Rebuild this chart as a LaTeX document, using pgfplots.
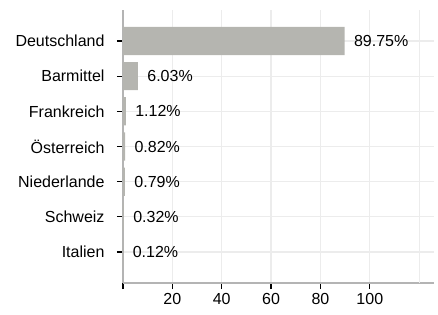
\documentclass[border=0pt]{standalone}
\usepackage{fontspec}
\setmainfont{Liberation Sans}
\usepackage{pgfplots}
\pgfplotsset{compat=1.18}
\definecolor{barcolor}{RGB}{181,181,176}
\definecolor{gridgray}{RGB}{236,236,236}
\definecolor{axisgray}{RGB}{180,180,180}
\begin{document}
\begin{tikzpicture}[font=\fontsize{16bp}{19bp}\selectfont]
\begin{axis}[
  scale only axis, width=311bp, height=273bp,
  xbar, bar width=0.8,
  xmin=0, xmax=126, ymin=-0.88, ymax=6.88,
  ytick={0,...,6},
  yticklabels={Italien,Schweiz,Niederlande,Österreich,Frankreich,Barmittel,Deutschland},
  xtick={0,20,...,100},
  xticklabels={,20,40,60,80,100},
  extra x ticks={120}, extra x tick labels={},
  extra x tick style={major tick length=0pt, grid=major},
  grid=major,
  grid style={color=gridgray, line width=1.2pt},
  axis x line*=bottom, axis y line*=left,
  axis line style={-, color=axisgray, line width=1.3pt},
  tick style={black, line width=1.2pt},
  major tick length=6bp, tick align=outside,
  /pgf/number format/assume math mode=true,
  point meta=explicit symbolic,
  nodes near coords,
  every node near coord/.append style={anchor=west, xshift=6bp, black},
  yticklabel style={xshift=-9bp},
  xticklabel style={yshift=-1bp},
]
\addplot[fill=barcolor, draw=none] coordinates {
  (0.12,0) [0.12\%]
  (0.32,1) [0.32\%]
  (0.79,2) [0.79\%]
  (0.82,3) [0.82\%]
  (1.12,4) [1.12\%]
  (6.03,5) [6.03\%]
  (89.75,6) [89.75\%]
};
\end{axis}
\pgfresetboundingbox
\path (current axis.south west) ++(-123bp,-32bp) rectangle ++(438bp,315bp);
\end{tikzpicture}
\end{document}
